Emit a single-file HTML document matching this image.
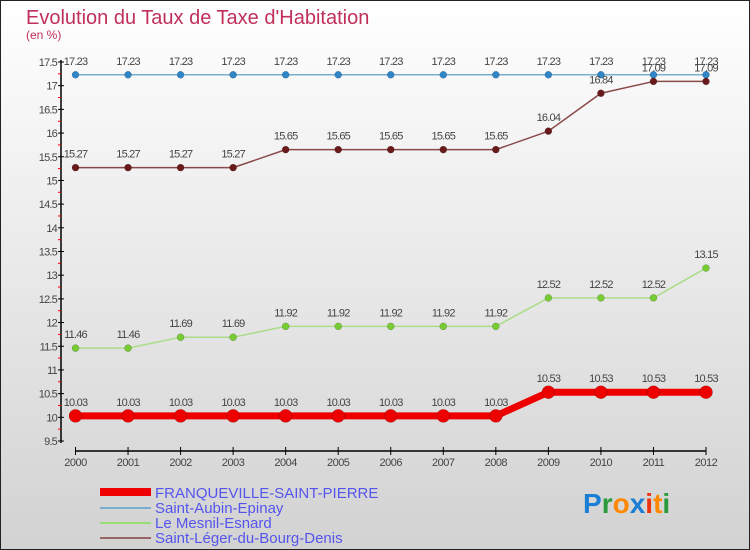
<!DOCTYPE html>
<html><head><meta charset="utf-8"><style>
body{margin:0}
svg{display:block;font-family:"Liberation Sans",sans-serif}
</style></head><body>
<svg id="c" width="750" height="550" viewBox="0 0 750 550">
<defs><linearGradient id="bg" x1="0" y1="0" x2="0" y2="1"><stop offset="0" stop-color="#ffffff"/><stop offset="1" stop-color="#d2d2d2"/></linearGradient></defs>
<rect x="0.5" y="0.5" width="749" height="549" fill="url(#bg)" stroke="#222"/>
<text x="26" y="24" font-size="20" fill="#c0305a">Evolution du Taux de Taxe d'Habitation</text>
<text x="26" y="39" font-size="12" fill="#c0305a">(en %)</text>
<g id="axes"></g>
<g id="series"></g>
<g>
<rect x="100" y="488" width="51" height="8" fill="#ee0000"/>
<text x="155" y="498" font-size="15" fill="#5555ee">FRANQUEVILLE-SAINT-PIERRE</text>
<rect x="100" y="507" width="51" height="2" fill="#7aaed0"/>
<text x="155" y="513" font-size="15" fill="#5555ee">Saint-Aubin-Epinay</text>
<rect x="100" y="522" width="51" height="2" fill="#99dd77"/>
<text x="155" y="528" font-size="15" fill="#5555ee">Le Mesnil-Esnard</text>
<rect x="100" y="537" width="51" height="2" fill="#996666"/>
<text x="155" y="543" font-size="15" fill="#5555ee">Saint-Léger-du-Bourg-Denis</text>
</g>
<text x="583" y="513" font-size="28" font-weight="bold"><tspan fill="#1a7fd4">P</tspan><tspan fill="#2a9a3a">r</tspan><tspan fill="#ff8800">o</tspan><tspan fill="#1a7fd4">x</tspan><tspan fill="#ee3311">i</tspan><tspan fill="#ff8800">t</tspan><tspan fill="#2a9a3a">i</tspan></text>
</svg>
<script>
const years=[2000,2001,2002,2003,2004,2005,2006,2007,2008,2009,2010,2011,2012];
const franqueville=[10.03,10.03,10.03,10.03,10.03,10.03,10.03,10.03,10.03,10.53,10.53,10.53,10.53];
const saintAubin=[17.23,17.23,17.23,17.23,17.23,17.23,17.23,17.23,17.23,17.23,17.23,17.23,17.23];
const leMesnil=[11.46,11.46,11.69,11.69,11.92,11.92,11.92,11.92,11.92,12.52,12.52,12.52,13.15];
const saintLeger=[15.27,15.27,15.27,15.27,15.65,15.65,15.65,15.65,15.65,16.04,16.84,17.09,17.09];
const yTicks=[9.5,10,10.5,11,11.5,12,12.5,13,13.5,14,14.5,15,15.5,16,16.5,17,17.5];
const NS="http://www.w3.org/2000/svg";
const x=i=>75.5+i*(706-75.5)/(years.length-1);
const y=v=>441-(v-9.5)*(441-62)/8;
function mk(t,a,p){const e=document.createElementNS(NS,t);for(const k in a)e.setAttribute(k,a[k]);p.appendChild(e);return e;}
const ax=document.getElementById('axes');
let yl=mk('line',{x1:61,y1:60,x2:61,y2:443,stroke:'#000','stroke-width':1.5},ax);


yTicks.forEach((v,i)=>{
 mk('line',{x1:58,y1:y(v),x2:64,y2:y(v),stroke:'#000'},ax);
 if(i<yTicks.length-1)mk('line',{x1:58,y1:y(v+0.25),x2:61,y2:y(v+0.25),stroke:'#e00'},ax);
 const t=mk('text',{x:57,y:y(v)+4,'text-anchor':'end','font-size':11,fill:'#444','letter-spacing':'-0.8'},ax);
 t.textContent=String(v);
 
 
});
let xl=mk('line',{x1:75.5,y1:451,x2:706,y2:451,stroke:'#000','stroke-width':1.5},ax);


years.forEach((yr,i)=>{
 mk('line',{x1:x(i),y1:447,x2:x(i),y2:455,stroke:'#000'},ax);
 const t=mk('text',{x:x(i),y:466,'text-anchor':'middle','font-size':11,fill:'#444','letter-spacing':'-0.5'},ax);
 t.textContent=String(yr);
 
 
});
const sg=document.getElementById('series');
function draw(name,vals,color,dot,w,r){
 const g=mk('g',{},sg);
 
 
 const p=mk('polyline',{points:vals.map((v,i)=>x(i)+','+y(v)).join(' '),fill:'none',stroke:color,'stroke-width':w,'stroke-linejoin':'round'},g);
 
 
 vals.forEach((v,i)=>{
  const c=mk('circle',{cx:x(i),cy:y(v),r:r,fill:dot,stroke:'rgba(0,0,0,0.3)','stroke-width':0.5},g);
  
  
  const t=mk('text',{x:x(i),y:y(v)-10,'text-anchor':'middle','font-size':11,fill:'#444','letter-spacing':'-0.8'},g);
  t.textContent=v.toFixed(2);
  
  
 });
}
draw('saint-aubin',saintAubin,'#7aaed0','#2e86c8',1.5,3.5);
draw('saint-leger',saintLeger,'#8b4a4a','#6a1a1a',1.5,3.5);
draw('le-mesnil',leMesnil,'#aadd88','#77cc33',1.5,3.5);
draw('franqueville',franqueville,'#ee0000','#ee0000',7,6.5);
</script>
</body></html>
